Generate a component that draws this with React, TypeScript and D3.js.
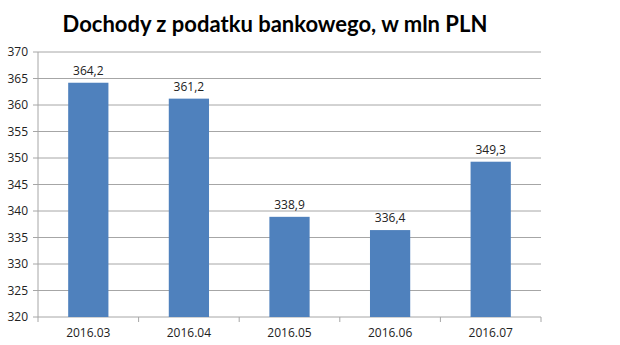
import React from "react";
import * as d3 from "d3";

const categories = ["2016.03", "2016.04", "2016.05", "2016.06", "2016.07"];
const values = [364.2, 361.2, 338.9, 336.4, 349.3];
const yTicks = [320, 325, 330, 335, 340, 345, 350, 355, 360, 365, 370];
const title = "Dochody z podatku bankowego, w mln PLN";

export default function App() {
  const W = 620, H = 345;
  const left = 38, right = 541, top = 52, bottom = 317;
  const x = d3.scaleBand<string>().domain(categories).range([left, right]).paddingInner(0).paddingOuter(0);
  const y = d3.scaleLinear().domain([320, 370]).range([bottom, top]);
  const bw = x.bandwidth() * 0.4;
  const fmt = (v: number) => v.toFixed(1).replace(".", ",");
  const font = "'Open Sans', 'Noto Sans', sans-serif";
  const boundaries = categories.map((c) => x(c)!).concat([right]);
  return (
    <svg width={W} height={H} style={{ position: "absolute", left: 0, top: 0, background: "#fff" }}>
      <rect width={W} height={H} fill="#fff" />
      <text x={275} y={32} textAnchor="middle" fontFamily="Lato, 'Open Sans', sans-serif" fontWeight="bold" fontSize={22} fill="#000">
        {title}
      </text>
      {yTicks.map((t) => (
        <g key={t}>
          {t !== 320 && <line x1={left} x2={right} y1={y(t)} y2={y(t)} stroke="#a6a6a6" strokeWidth={1} />}
          <line x1={left - 5} x2={left} y1={y(t)} y2={y(t)} stroke="#a6a6a6" />
          <text x={28} y={y(t) + 4} textAnchor="end" fontFamily={font} fontSize={12} fill="#222">
            {t}
          </text>
        </g>
      ))}
      <line x1={left} x2={left} y1={top} y2={bottom} stroke="#a6a6a6" />
      <line x1={left} x2={right} y1={bottom} y2={bottom} stroke="#a6a6a6" />
      {boundaries.map((b, i) => (
        <line key={i} x1={b} x2={b} y1={bottom} y2={bottom + 5} stroke="#a6a6a6" />
      ))}
      {categories.map((c, i) => {
        const cx = x(c)! + x.bandwidth() / 2;
        return (
          <g key={c}>
            <rect x={cx - bw / 2} y={y(values[i])} width={bw} height={bottom - y(values[i])} fill="#4f81bd" />
            <text x={cx} y={y(values[i]) - 8} textAnchor="middle" fontFamily={font} fontSize={12} fill="#222">
              {fmt(values[i])}
            </text>
            <text x={cx} y={337} textAnchor="middle" fontFamily={font} fontSize={12} fill="#222">
              {c}
            </text>
          </g>
        );
      })}
    </svg>
  );
}
